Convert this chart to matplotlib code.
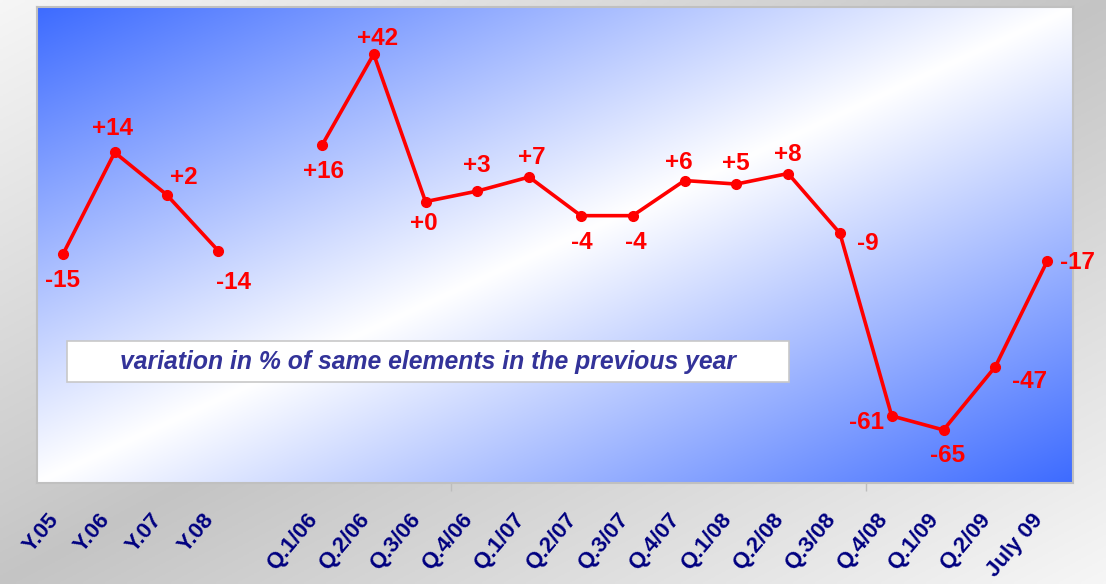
import numpy as np
import matplotlib.pyplot as plt
from matplotlib.patches import Rectangle

# periods on the x axis (empty slot separates yearly and quarterly figures)
periods = ["Y.05", "Y.06", "Y.07", "Y.08", "",
           "Q.1/06", "Q.2/06", "Q.3/06", "Q.4/06",
           "Q.1/07", "Q.2/07", "Q.3/07", "Q.4/07",
           "Q.1/08", "Q.2/08", "Q.3/08", "Q.4/08",
           "Q.1/09", "Q.2/09", "July 09"]
# % variation vs same period of previous year
variation = [-15, 14, 2, -14, np.nan,
             16, 42, 0, 3,
             7, -4, -4, 6,
             5, 8, -9, -61,
             -65, -47, -17]

# where each value label sits relative to its point (pixels)
label_offsets = [(0, -26), (-2, 24), (17, 17), (15, -32), None,
                 (2, -26), (4, 16), (-2, -22), (0, 26),
                 (3, 20), (1, -27), (3, -27), (-6, 18),
                 (0, 21), (0, 19), (28, -10), (-25, -7),
                 (4, -26), (34, -15), (30, -1)]

BLUE = np.array([61, 107, 255]) / 255.0
RED = "#ff0000"
NAVY = "#000080"


def diagonal_gradient(h, w, edge, middle):
    """edge colour at the top-left/bottom-right corners, middle colour along the other diagonal"""
    u = np.linspace(0, 1, w)[None, :]
    v = np.linspace(0, 1, h)[:, None]
    s = np.abs(u + v - 1.0)[..., None]
    return middle * (1 - s) + edge * s


fig = plt.figure(figsize=(11.06, 5.84), dpi=100)

# grey backdrop
bg = fig.add_axes([0, 0, 1, 1], zorder=-10)
bg.imshow(diagonal_gradient(200, 400, np.array([0.965] * 3), np.array([0.77] * 3)),
          aspect="auto", extent=[0, 1, 0, 1])
bg.set_axis_off()

ax = fig.add_axes([37 / 1106, 1 - 483 / 584, 1036 / 1106, 476 / 584])
x = np.arange(len(periods))
ax.set_xlim(-0.5, len(periods) - 0.5)
ax.set_ylim(-80.1, 55.4)

ax.imshow(diagonal_gradient(300, 600, BLUE, np.array([1.0, 1.0, 1.0])),
          aspect="auto", extent=[-0.5, len(periods) - 0.5, -80.1, 55.4], zorder=0)

ax.plot(x, variation, color=RED, lw=2.6, marker="o", ms=7, zorder=3)

for xi, val, off in zip(x, variation, label_offsets):
    if off is None:
        continue
    ax.annotate(f"{int(val):+d}", (xi, val), xytext=off, textcoords="offset pixels",
                ha="center", va="center", color=RED, fontsize=17.5,
                fontweight="bold", family="Liberation Sans", zorder=4)

# caption box
ax.add_patch(Rectangle((0.029, 0.212), 0.697, 0.086, transform=ax.transAxes,
                       facecolor="white", edgecolor="#c8c8c8", lw=1.2, zorder=2))
ax.text(0.377, 0.255, "variation in % of same elements in the previous year",
        transform=ax.transAxes, ha="center", va="center", color="#333399",
        fontsize=17.8, fontweight="bold", fontstyle="italic",
        family="Liberation Sans", zorder=3)

ax.set_yticks([])
ax.set_xticks(x)
ax.set_xticklabels(periods, rotation=50, ha="right", va="top",
                   color=NAVY, fontsize=16, fontweight="bold",
                   family="Liberation Sans")
ax.tick_params(axis="x", which="major", length=0, pad=19)
ax.set_xticks([7.5, 15.5], minor=True)
ax.tick_params(axis="x", which="minor", length=6, color="#bdbdbd", width=1)

for side in ax.spines.values():
    side.set_color("#c0c0c0")
    side.set_linewidth(1.5)

fig.savefig("out.png", dpi=100)
